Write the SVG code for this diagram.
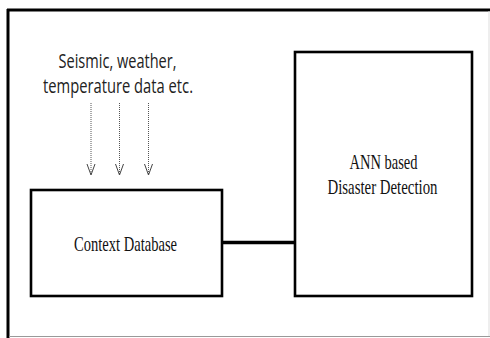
<svg xmlns="http://www.w3.org/2000/svg" width="490" height="338" viewBox="0 0 490 338">
<defs>
<style>
.box{fill:#fff;stroke:#000;stroke-width:2.6}
.serif{font-family:"Liberation Serif","Times New Roman",serif;font-size:21px;fill:#111}
.sans{font-family:"Open Sans","Liberation Sans",sans-serif;font-size:19.5px;fill:#222}
.dot{stroke:#555;stroke-width:1;stroke-dasharray:1 1;fill:none}
.head{stroke:#444;stroke-width:1;fill:none}
</style>
</defs>
<rect width="490" height="338" fill="#fff"/>
<g id="frame">
<line x1="7" y1="10" x2="490" y2="10" stroke="#000" stroke-width="3"/>
<line x1="8" y1="9" x2="8" y2="338" stroke="#000" stroke-width="3"/>
<line x1="9" y1="336.5" x2="490" y2="336.5" stroke="#999" stroke-width="1.2"/>
<line x1="489" y1="11" x2="489" y2="336" stroke="#ddd" stroke-width="1"/>
</g>
<g id="inputs">
<text class="sans" x="117.5" y="67.5" text-anchor="middle" textLength="118" lengthAdjust="spacingAndGlyphs">Seismic, weather,</text>
<text class="sans" x="118" y="93" text-anchor="middle" textLength="150" lengthAdjust="spacingAndGlyphs">temperature data etc.</text>
</g>
<g id="connectors">
<line class="dot" x1="91" y1="103" x2="91" y2="175"/>
<polyline class="head" points="87,164 91,175 95,164"/>
<line class="dot" x1="119.5" y1="103" x2="119.5" y2="175"/>
<polyline class="head" points="115.5,164 119.5,175 123.5,164"/>
<line class="dot" x1="148.5" y1="103" x2="148.5" y2="175"/>
<polyline class="head" points="144.5,164 148.5,175 152.5,164"/>
<line x1="222" y1="242.5" x2="295" y2="242.5" stroke="#000" stroke-width="3.5"/>
</g>
<g id="context-db">
<rect class="box" x="31" y="190" width="191" height="106"/>
<text class="serif" x="125.5" y="250.5" text-anchor="middle" textLength="103" lengthAdjust="spacingAndGlyphs">Context Database</text>
</g>
<g id="ann">
<rect class="box" x="295" y="52" width="177" height="244"/>
<text class="serif" x="383.5" y="169" text-anchor="middle" textLength="68" lengthAdjust="spacingAndGlyphs">ANN based</text>
<text class="serif" x="382.5" y="194" text-anchor="middle" textLength="110" lengthAdjust="spacingAndGlyphs">Disaster Detection</text>
</g>
</svg>
